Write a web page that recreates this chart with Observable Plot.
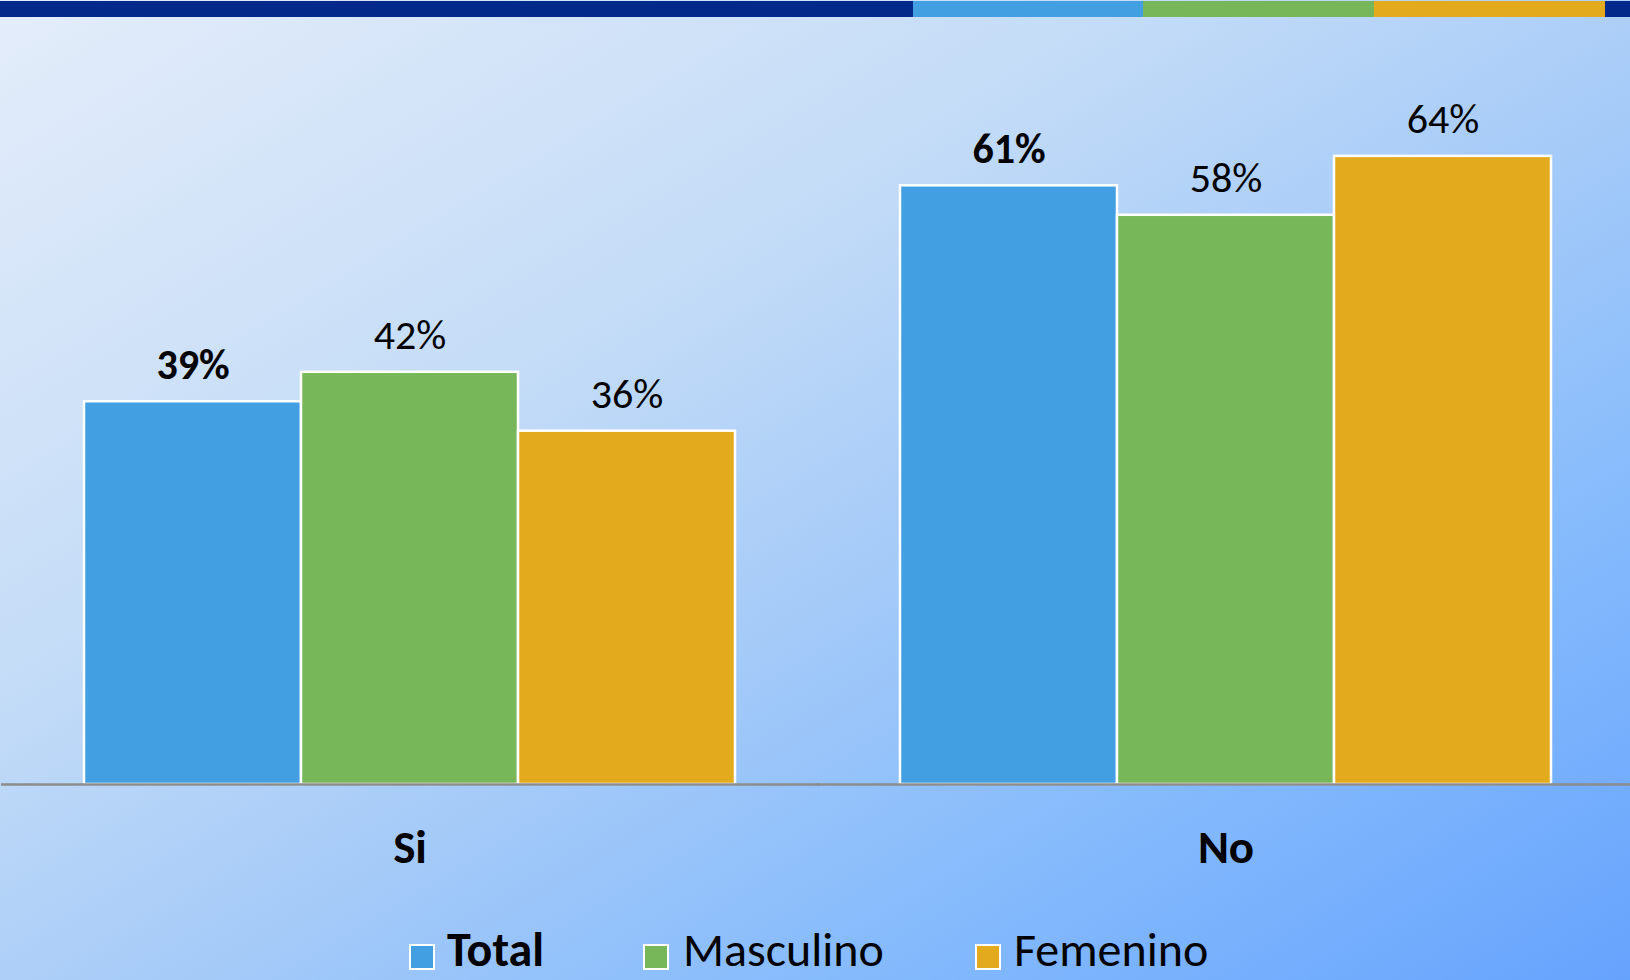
<!DOCTYPE html>
<html>
<head>
<meta charset="utf-8">
<script src="https://cdn.jsdelivr.net/npm/d3@7"></script>
<script src="https://cdn.jsdelivr.net/npm/@observablehq/plot@0.6"></script>
<style>
  html, body { margin:0; padding:0; width:1630px; height:980px; overflow:hidden; }
  body {
    position: relative;
    font-family: Carlito, "Liberation Sans Narrow", Lato, sans-serif;
    background: linear-gradient(to bottom right, #e4edfa 0%, #c4dcf7 35%, #a6cbf8 55%, #86bbfc 75%, #66a3fd 100%);
  }
  #band { position:absolute; left:0; top:1px; width:1630px; height:16px; }
  #band div { position:absolute; top:0; height:16px; }
  #chart { position:absolute; left:0; top:0; }
  #legend { position:absolute; left:0; top:0; width:1630px; height:980px; pointer-events:none; }
  .sw { position:absolute; width:22px; height:22px; border:2px solid #fff; top:944px; }
  .lt { position:absolute; font-size:48px; line-height:48px; top:926px; color:#000; white-space:nowrap; }
</style>
</head>
<body>
<div id="band">
  <div style="left:0;width:913px;background:#03298a"></div>
  <div style="left:913px;width:230px;background:#419fe2"></div>
  <div style="left:1143px;width:231px;background:#77b75a"></div>
  <div style="left:1374px;width:231px;background:#e2aa1c"></div>
  <div style="left:1605px;width:25px;background:#03298a"></div>
</div>
<div id="chart"></div>
<div id="legend"></div>
<script>
const groups = ["Si", "No"];
const series = ["Total", "Masculino", "Femenino"];
const total = [39, 61];
const masculino = [42, 58];
const femenino = [36, 64];
const colors = ["#419fe2", "#77b75a", "#e2aa1c"];

const values = [total, masculino, femenino];
const data = [];
series.forEach((s, si) => groups.forEach((g, gi) => data.push({group: g, series: s, value: values[si][gi]})));

const fontFamily = 'Carlito, "Liberation Sans Narrow", Lato, sans-serif';

const chart = Plot.plot({
  width: 1630,
  height: 930,
  marginTop: 97,
  marginBottom: 146,
  marginLeft: 1,
  marginRight: -3,
  style: { background: "transparent", fontFamily, color: "#000", overflow: "visible" },
  fx: { domain: groups, paddingInner: 0.2, paddingOuter: 0.1, label: null },
  x: { domain: series, padding: 0, axis: null },
  y: { domain: [0, 70], axis: null },
  color: { domain: series, range: colors },
  marks: [
    Plot.barY(data, { fx: "group", x: "series", y: "value", fill: "series", stroke: "#fff", strokeWidth: 2.5 }),
    Plot.ruleY([0], { stroke: "#8c8c8c", strokeWidth: 2.5, insetLeft: -82, insetRight: -84 }),
    Plot.text(data.filter(d => d.series === "Total"), { fx: "group", x: "series", y: "value", text: d => d.value + "%", fontSize: 42, fontWeight: "bold", dy: -23, lineAnchor: "bottom", fill: "#000" }),
    Plot.text(data.filter(d => d.series !== "Total"), { fx: "group", x: "series", y: "value", text: d => d.value + "%", fontSize: 42, dy: -23, lineAnchor: "bottom", fill: "#000" }),
    Plot.axisFx({ anchor: "bottom", tickSize: 0, tickPadding: 45, fontSize: 47, fontWeight: "bold", label: null })
  ]
});
document.getElementById("chart").appendChild(chart);

const legend = document.getElementById("legend");
const swX = [409, 643, 975];
const txX = [447, 683, 1014];
series.forEach((s, i) => {
  const sw = document.createElement("div");
  sw.className = "sw";
  sw.style.left = swX[i] + "px";
  sw.style.background = colors[i];
  legend.appendChild(sw);
  const t = document.createElement("div");
  t.className = "lt";
  t.style.left = txX[i] + "px";
  t.style.fontWeight = i === 0 ? "bold" : "normal";
  t.textContent = s;
  legend.appendChild(t);
});
</script>
</body>
</html>
